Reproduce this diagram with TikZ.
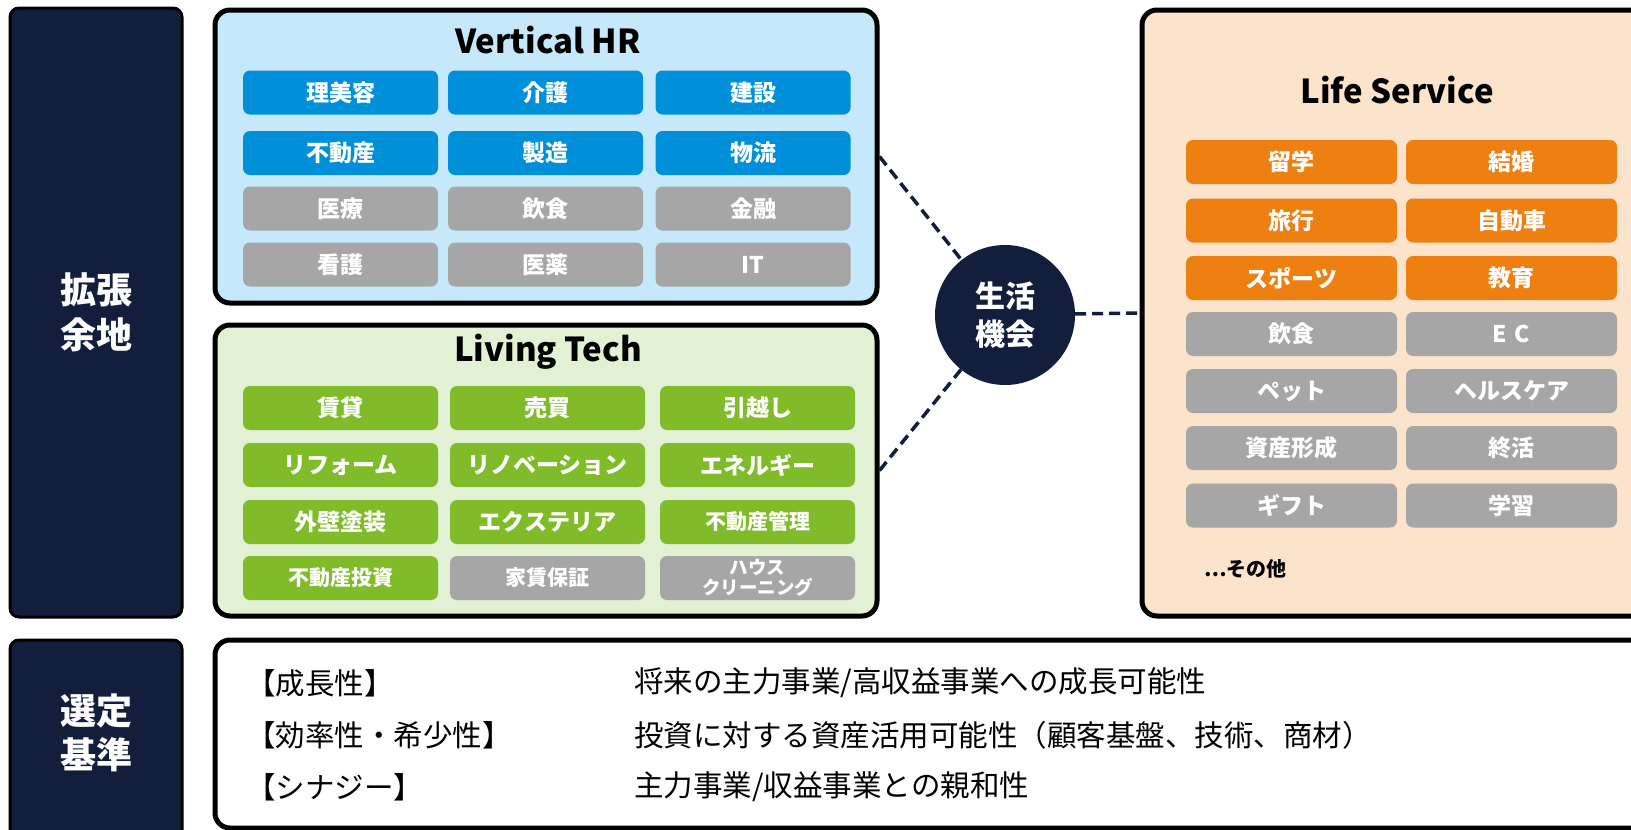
\documentclass[tikz,border=0pt]{standalone}
\usepackage{fontspec}
\setmainfont{Noto Sans CJK JP}
\definecolor{navy}{HTML}{121E3C}
\definecolor{tblue}{HTML}{0090D9}
\definecolor{tgray}{HTML}{A6A6A6}
\definecolor{tgreen}{HTML}{80BC2A}
\definecolor{torange}{HTML}{EE8012}
\definecolor{bgblue}{HTML}{C5E9FB}
\definecolor{bggreen}{HTML}{E2F0D4}
\definecolor{bgorange}{HTML}{FBE3CC}
\begin{document}
\begin{tikzpicture}[x=1pt,y=-1pt,
  panel/.style={draw=black, line width=3pt, fill=navy, rounded corners=9pt, inner sep=0pt},
  grp/.style={draw=black, line width=5pt, rounded corners=15pt, inner sep=0pt},
  tile/.style={rounded corners=7pt, minimum height=44pt, text=white, inner sep=0pt,
    font=\fontsize{23}{25}\selectfont\bfseries},
  vt/.style={tile, minimum width=195pt},
  lst/.style={tile, minimum width=211pt},
  ttl/.style={font=\fontsize{33}{36}\selectfont\bfseries, text=black},
  crit/.style={anchor=west, font=\fontsize{29.5}{32}\selectfont, inner sep=0pt},
  link/.style={draw=navy, line width=3.5pt, dash pattern=on 11pt off 6pt}
]
\clip (0,0) rectangle (1631,830);
\fill[white] (0,0) rectangle (1631,830);

% left panels
\node[panel, minimum width=172pt, minimum height=609pt, align=center, text=white,
  font=\fontsize{36}{45}\selectfont\bfseries] (p1) at (96,312.5) {拡張\\余地};
\node[panel, minimum width=172pt, minimum height=205pt] (p2) at (96,742.5) {};
\node[text=white, align=center, font=\fontsize{36}{44}\selectfont\bfseries] (p2t) at (96,733) {選定\\基準};

% group boxes
\node[grp, fill=bgblue, minimum width=662pt, minimum height=293pt] (vhr) at (546,156.5) {};
\node[grp, fill=bggreen, minimum width=662pt, minimum height=291pt] (lt) at (546,470.5) {};
\node[grp, fill=bgorange, minimum width=518pt, minimum height=606pt] (ls) at (1401,313) {};
\node[grp, fill=white, minimum width=1445pt, minimum height=188pt] (crbox) at (937.5,734) {};

% titles
\node[ttl] (vhrt) at (548,40) {Vertical HR};
\node[ttl] (ltt) at (548,352) {Living Tech};
\node[ttl] (lst) at (1397,90) {Life Service};

% Vertical HR tiles
\node[vt, fill=tblue] (v11) at (340.5,92.5) {理美容};
\node[vt, fill=tblue] (v12) at (545.5,92.5) {介護};
\node[vt, fill=tblue] (v13) at (753,92.5) {建設};
\node[vt, fill=tblue] (v21) at (340.5,153) {不動産};
\node[vt, fill=tblue] (v22) at (545.5,153) {製造};
\node[vt, fill=tblue] (v23) at (753,153) {物流};
\node[vt, fill=tgray] (v31) at (340.5,208.5) {医療};
\node[vt, fill=tgray] (v32) at (545.5,208.5) {飲食};
\node[vt, fill=tgray] (v33) at (753,208.5) {金融};
\node[vt, fill=tgray] (v41) at (340.5,264.5) {看護};
\node[vt, fill=tgray] (v42) at (545.5,264.5) {医薬};
\node[vt, fill=tgray] (v43) at (753,264.5) {IT};

% Living Tech tiles
\node[vt, fill=tgreen] (l11) at (340.5,408) {賃貸};
\node[vt, fill=tgreen] (l12) at (547.5,408) {売買};
\node[vt, fill=tgreen] (l13) at (757.5,408) {引越し};
\node[vt, fill=tgreen] (l21) at (340.5,465) {リフォーム};
\node[vt, fill=tgreen] (l22) at (547.5,465) {リノベーション};
\node[vt, fill=tgreen] (l23) at (757.5,465) {エネルギー};
\node[vt, fill=tgreen] (l31) at (340.5,522) {外壁塗装};
\node[vt, fill=tgreen] (l32) at (547.5,522) {エクステリア};
\node[vt, fill=tgreen, font=\fontsize{21}{23}\selectfont\bfseries] (l33) at (757.5,522) {不動産管理};
\node[vt, fill=tgreen, font=\fontsize{21}{23}\selectfont\bfseries] (l41) at (340.5,578) {不動産投資};
\node[vt, fill=tgray, font=\fontsize{21}{23}\selectfont\bfseries] (l42) at (547.5,578) {家賃保証};
\node[vt, fill=tgray, align=center, font=\fontsize{18.5}{20}\selectfont\bfseries] (l43) at (757.5,578) {ハウス\\クリーニング};

% Life Service tiles
\node[lst, fill=torange] (s11) at (1291.5,162) {留学};
\node[lst, fill=torange] (s12) at (1511.5,162) {結婚};
\node[lst, fill=torange] (s21) at (1291.5,220.5) {旅行};
\node[lst, fill=torange] (s22) at (1511.5,220.5) {自動車};
\node[lst, fill=torange] (s31) at (1291.5,278) {スポーツ};
\node[lst, fill=torange] (s32) at (1511.5,278) {教育};
\node[lst, fill=tgray] (s41) at (1291.5,334) {飲食};
\node[lst, fill=tgray] (s42) at (1511.5,334) {E\,\,C};
\node[lst, fill=tgray] (s51) at (1291.5,391) {ペット};
\node[lst, fill=tgray] (s52) at (1511.5,391) {ヘルスケア};
\node[lst, fill=tgray] (s61) at (1291.5,448) {資産形成};
\node[lst, fill=tgray] (s62) at (1511.5,448) {終活};
\node[lst, fill=tgray] (s71) at (1291.5,505.5) {ギフト};
\node[lst, fill=tgray] (s72) at (1511.5,505.5) {学習};
\node[anchor=west, inner sep=0pt, font=\fontsize{20}{22}\selectfont\bfseries] (etc) at (1204,569) {…その他};

% circle
\node[circle, fill=navy, minimum size=140pt, inner sep=0pt, text=white, align=center,
  font=\fontsize{30}{38}\selectfont\bfseries] (c) at (1005,315) {生活\\機会};

% connectors
\draw[link] (vhr.east) -- (c);
\draw[link] (lt.east) -- (c);
\draw[link] (c) -- (ls.west);

% criteria
\node[crit] (k1) at (246,683) {【成長性】};
\node[crit] (k2) at (246,735) {【効率性・希少性】};
\node[crit] (k3) at (246,787) {【シナジー】};
\node[crit] (d1) at (634,683) {将来の主力事業/高収益事業への成長可能性};
\node[crit] (d2) at (634,735) {投資に対する資産活用可能性（顧客基盤、技術、商材）};
\node[crit] (d3) at (634,787) {主力事業/収益事業との親和性};
\end{tikzpicture}
\end{document}
